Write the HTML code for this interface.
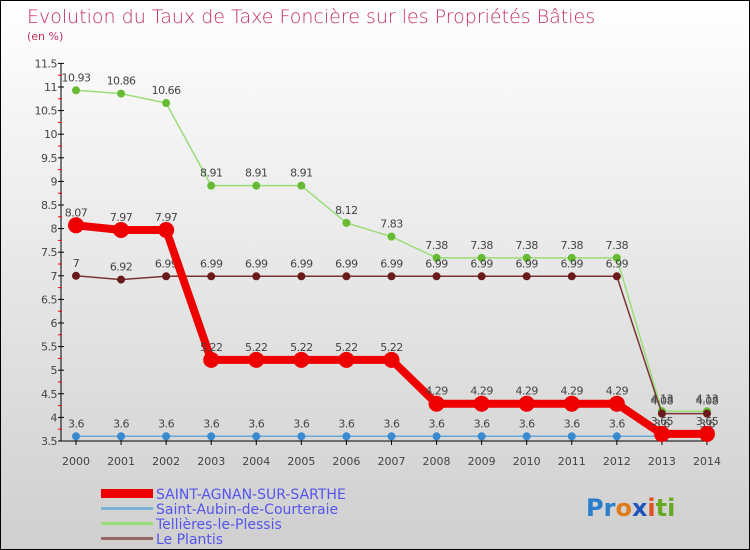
<!DOCTYPE html>
<html><head><meta charset="utf-8"><style>
body{margin:0}
#wrap{position:relative;width:748px;height:548px;border:1px solid #000;background:linear-gradient(#fff,#cfcfcf);overflow:hidden;font-family:"DejaVu Sans","Liberation Sans",sans-serif}
</style></head><body>
<div id="wrap">
<svg id="chart" width="748" height="548">
<text x="26" y="22" font-size="19" fill="#c0305a" font-family="DejaVu Sans, sans-serif" font-weight="200">Evolution du Taux de Taxe Foncière sur les Propriétés Bâties</text>
<text x="26" y="39" font-size="11" fill="#c0305a">(en %)</text>
<g id="axes"></g><g id="series"></g>
<g>
<rect x="100" y="488" width="52" height="9" fill="#e00"/>
<text x="155" y="498" font-size="14" fill="#5555ee">SAINT-AGNAN-SUR-SARTHE</text>
<rect x="100" y="506" width="52" height="3" fill="#7ab0d8"/>
<text x="155" y="513" font-size="14" fill="#5555ee">Saint-Aubin-de-Courteraie</text>
<rect x="100" y="521" width="52" height="3" fill="#99dd77"/>
<text x="155" y="528" font-size="14" fill="#5555ee">Tellières-le-Plessis</text>
<rect x="100" y="536" width="52" height="3" fill="#996666"/>
<text x="155" y="543" font-size="14" fill="#5555ee">Le Plantis</text>
</g>
<text x="585" y="515" font-size="24" font-weight="bold"><tspan fill="#2a7fcc">Pr</tspan><tspan fill="#e07a1a">o</tspan><tspan fill="#2255bb">x</tspan><tspan fill="#e05020">i</tspan><tspan fill="#66aa22">ti</tspan></text>
</svg>
</div>
<script>
const years=[2000,2001,2002,2003,2004,2005,2006,2007,2008,2009,2010,2011,2012,2013,2014];
const yTicks=[3.5,4,4.5,5,5.5,6,6.5,7,7.5,8,8.5,9,9.5,10,10.5,11,11.5];
const saintAgnan=[8.07,7.97,7.97,5.22,5.22,5.22,5.22,5.22,4.29,4.29,4.29,4.29,4.29,3.65,3.65];
const saintAubin=[3.6,3.6,3.6,3.6,3.6,3.6,3.6,3.6,3.6,3.6,3.6,3.6,3.6,3.6,3.6];
const tellieres=[10.93,10.86,10.66,8.91,8.91,8.91,8.12,7.83,7.38,7.38,7.38,7.38,7.38,4.13,4.13];
const lePlantis=[7,6.92,6.99,6.99,6.99,6.99,6.99,6.99,6.99,6.99,6.99,6.99,6.99,4.08,4.08];
const NS="http://www.w3.org/2000/svg";
const xS=i=>75+i*45.07;
const yS=v=>440-(v-3.5)*47.2;
function mk(t,a,p){const e=document.createElementNS(NS,t);for(const k in a)e.setAttribute(k,a[k]);p.appendChild(e);return e;}
const ax=document.getElementById('axes');
let l=mk('line',{x1:60,y1:yS(11.5),x2:60,y2:yS(3.5),stroke:'#000'},ax);


l=mk('line',{x1:60,y1:yS(3.5),x2:xS(14),y2:yS(3.5),stroke:'#000'},ax);


yTicks.forEach(v=>{
 mk('line',{x1:57,y1:yS(v),x2:63,y2:yS(v),stroke:'#000'},ax);
 if(v<11.5) mk('line',{x1:57,y1:yS(v+0.25),x2:61,y2:yS(v+0.25),stroke:'#e00'},ax);
 const t=mk('text',{x:56,y:yS(v)+4,'font-size':11,'text-anchor':'end',fill:'#444','letter-spacing':'-0.5'},ax);
 t.textContent=v;
 
 
});
years.forEach((y,i)=>{
 mk('line',{x1:xS(i),y1:yS(3.5)-3,x2:xS(i),y2:yS(3.5)+4,stroke:'#000'},ax);
 const t=mk('text',{x:xS(i),y:yS(3.5)+24,'font-size':11,'text-anchor':'middle',fill:'#444'},ax);
 t.textContent=y;
 
 
});
const sg=document.getElementById('series');
function draw(data,name,color,dot,w,r){
 const g=mk('g',{},sg);
 
 
 mk('polyline',{points:data.map((v,i)=>xS(i)+','+yS(v)).join(' '),fill:'none',stroke:color,'stroke-width':w,'stroke-linejoin':'round'},g);
 data.forEach((v,i)=>{
  const c=mk('circle',{cx:xS(i),cy:yS(v),r:r,fill:dot},g);
  
  
  const t=mk('text',{x:xS(i),y:yS(v)-9,'font-size':11,'text-anchor':'middle',fill:'#444','letter-spacing':'-0.5'},g);
  t.textContent=v;
  
  
 });
}
draw(saintAubin,'saint-aubin-series','#6aa8d8','#3a8ad0',1.5,4);
draw(tellieres,'tellieres-series','#99dd77','#66bb33',1.5,4);
draw(lePlantis,'le-plantis-series','#7a3333','#6a1a1a',1.5,4);
draw(saintAgnan,'saint-agnan-series','#ee0000','#ee0000',8,8);
</script>
</body></html>
